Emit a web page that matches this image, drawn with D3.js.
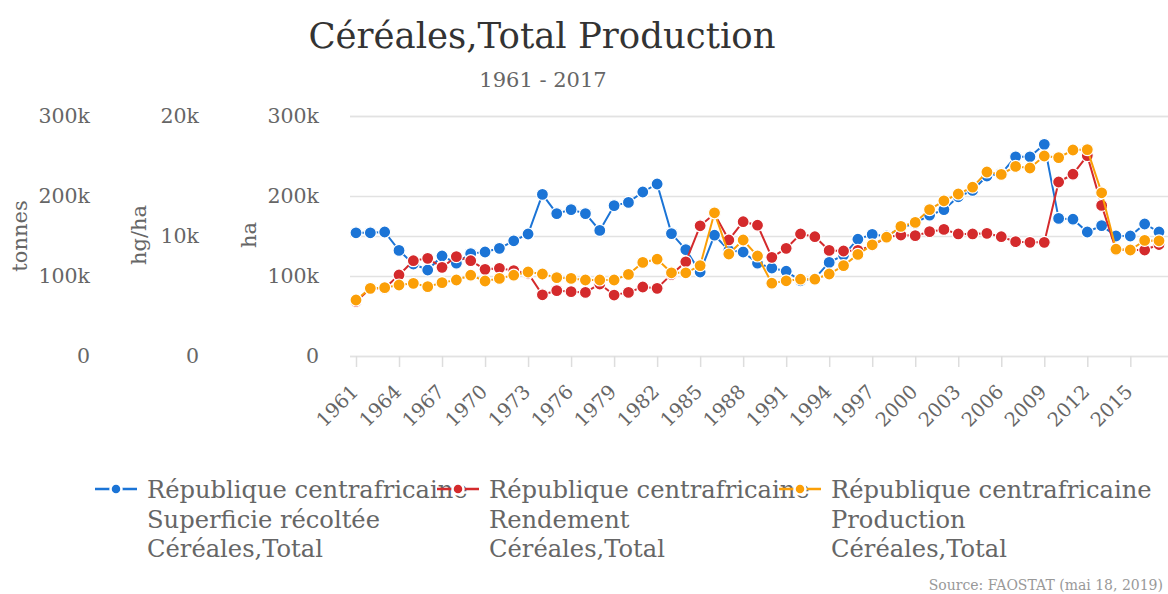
<!DOCTYPE html>
<html><head><meta charset="utf-8">
<script src="https://cdn.jsdelivr.net/npm/d3@7"></script>
<style>
html,body{margin:0;padding:0;background:#fff;}
svg{display:block;font-family:"DejaVu Serif",serif;}
</style></head>
<body>
<svg id="chart" width="1168" height="594"></svg>
<script>
const years = d3.range(1961, 2018);
const tickYears = d3.range(1961, 2018, 3);
const superficie = [154000,154000,155000,132000,115000,107500,125000,116000,128000,130000,134600,144000,152500,202000,178000,183000,178000,157000,188000,192000,205000,215000,153000,133000,105000,151000,132000,130000,116000,110000,106000,94000,97000,117000,126000,146000,152000,150000,160000,166000,176000,183000,199000,207000,225000,228000,249000,249000,264600,172000,171000,155000,163000,150000,150000,165000,155000];
const rendement = [4550,5620,5650,6750,7940,8140,7390,8280,7940,7220,7310,7110,6900,5100,5450,5360,5300,6000,5080,5300,5750,5640,6800,7850,10850,11850,9670,11190,10900,8220,8970,10170,9940,8800,8750,8800,9200,9890,10080,10030,10360,10550,10170,10170,10220,9940,9530,9470,9470,14500,15150,16700,12550,8870,8830,8830,9290];
const production = [70000,84600,85400,88750,90800,86700,91700,95000,101000,93750,97000,101000,105000,102500,98000,97000,95000,95000,95000,102000,117000,121000,104000,104000,113000,179000,127500,145000,125000,91000,94000,96000,96000,102500,113000,127000,139000,148500,162000,167000,183000,194000,202500,211000,230000,227000,237000,235000,250000,248000,257500,258000,204000,133500,132500,144500,144000];
const haTicks = [0,100000,200000,300000];
const hgTicks = [0,10000,20000];
const legendLines = [
  ["République centrafricaine","Superficie récoltée","Céréales,Total"],
  ["République centrafricaine","Rendement","Céréales,Total"],
  ["République centrafricaine","Production","Céréales,Total"]
];
const colors = ["#1b74d6","#d42a2c","#fb9f07"];

const svg = d3.select("#chart");
const pLeft = 350, pRight = 1168, pTop = 116, pBottom = 356;
const x = d3.scalePoint().domain(years).range([356, 1159]);
const yHa = d3.scaleLinear().domain([0,300000]).range([pBottom, pTop]);
const yT = d3.scaleLinear().domain([0,300000]).range([pBottom, pTop]);
const yHg = d3.scaleLinear().domain([0,20000]).range([pBottom, pTop]);
const fmt = d => d === 0 ? "0" : (d/1000) + "k";
const FONT = "DejaVu Serif";

svg.append("text").attr("x", 542).attr("y", 48).attr("text-anchor","middle")
  .attr("font-size", 35.5).attr("fill","#333").text("Céréales,Total Production");
svg.append("text").attr("x", 543).attr("y", 87).attr("text-anchor","middle")
  .attr("font-size", 21).attr("fill","#666").text("1961 - 2017");

function styleAxis(g){
  g.select(".domain").remove();
  g.selectAll(".tick line").attr("stroke","#e2e2e2").attr("stroke-width",1.5);
  g.selectAll(".tick text").attr("fill","#666").attr("font-size",20.5).attr("font-family",FONT);
}
svg.append("g").attr("transform",`translate(${pLeft},0)`)
  .call(d3.axisLeft(yHg).tickValues(hgTicks).tickSize(-(pRight-pLeft)).tickPadding(151).tickFormat(fmt))
  .call(styleAxis);
svg.append("g").attr("transform",`translate(${pLeft},0)`)
  .call(d3.axisLeft(yHa).tickValues(haTicks).tickSize(-(pRight-pLeft)).tickPadding(31).tickFormat(fmt))
  .call(styleAxis);
svg.append("g").attr("transform",`translate(${pLeft},0)`)
  .call(d3.axisLeft(yT).tickValues(haTicks).tickSize(0).tickPadding(260).tickFormat(fmt))
  .call(styleAxis);

[["tonnes",20,236],["hg/ha",139,235],["ha",249,235]].forEach(([t,cx,cy])=>{
  svg.append("text").attr("transform",`translate(${cx},${cy}) rotate(-90)`)
    .attr("text-anchor","middle").attr("dominant-baseline","central")
    .attr("font-size",21).attr("fill","#666").text(t);
});

const gx = svg.append("g").attr("transform",`translate(0,${pBottom})`)
  .call(d3.axisBottom(x).tickValues(tickYears).tickSize(11).tickPadding(0));
gx.select(".domain").remove();
gx.selectAll(".tick line").attr("stroke","#ddd").attr("stroke-width",1.5);
gx.selectAll(".tick text").attr("fill","#666").attr("font-size",19.5).attr("font-family",FONT)
  .attr("text-anchor","end").attr("x",0).attr("y",0).attr("dy",0)
  .attr("transform","translate(3,37) rotate(-45)");

const series = [
  {vals: superficie, y: yHa, c: colors[0]},
  {vals: rendement, y: yHg, c: colors[1]},
  {vals: production, y: yT, c: colors[2]}
];
series.forEach(s=>{
  const data = years.map((yr,i)=>({yr, v:s.vals[i]}));
  const line = d3.line().x(d=>x(d.yr)).y(d=>s.y(d.v));
  const g = svg.append("g");
  g.append("path").datum(data).attr("d",line).attr("fill","none")
    .attr("stroke",s.c).attr("stroke-width",2);
  g.selectAll("circle").data(data).join("circle")
    .attr("cx",d=>x(d.yr)).attr("cy",d=>s.y(d.v)).attr("r",6)
    .attr("fill",s.c).attr("stroke","#fff").attr("stroke-width",1.2);
});

legendLines.forEach((lines,i)=>{
  const x0 = 95 + i*342;
  const g = svg.append("g").attr("transform",`translate(${x0},0)`);
  g.append("line").attr("x1",0).attr("x2",42).attr("y1",489).attr("y2",489)
    .attr("stroke",colors[i]).attr("stroke-width",2.5);
  g.append("circle").attr("cx",21).attr("cy",489).attr("r",5.5).attr("fill",colors[i])
    .attr("stroke","#fff").attr("stroke-width",2.5);
  lines.forEach((t,j)=>{
    g.append("text").attr("x",52).attr("y",498+j*29.5).attr("font-size",24.2)
      .attr("fill","#666").text(t);
  });
});

svg.append("text").attr("x",1163).attr("y",590).attr("text-anchor","end")
  .attr("font-size",14).attr("fill","#999").text("Source: FAOSTAT (mai 18, 2019)");
</script>
</body></html>
